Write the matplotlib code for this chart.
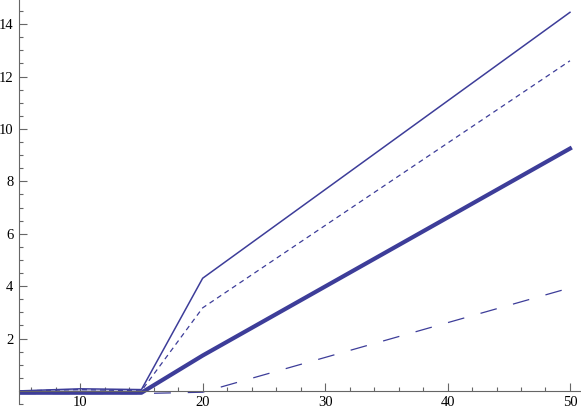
import matplotlib.pyplot as plt
from matplotlib.ticker import MultipleLocator, FixedLocator

# data
x = [5, 10, 15, 20, 50]
thin_solid = [0.0, 0.08, 0.05, 4.3, 14.45]
short_dash = [0.0, 0.05, 0.0, 3.17, 12.6]
thick_solid = [-0.07, -0.07, -0.07, 1.35, 9.25]
long_dash = [-0.1, -0.1, -0.1, -0.05, 3.93]

xticks = [10, 20, 30, 40, 50]
yticks = [2, 4, 6, 8, 10, 12, 14]

col = '#3d3d99'
axcol = '#666666'

fig = plt.figure(figsize=(5.81, 4.15), dpi=100)
ax = fig.add_axes([19/581, 11/415, 562/581, 404/415])

ax.plot(x, thin_solid, color=col, lw=1.1, solid_joinstyle='miter')
ax.plot(x, short_dash, color=col, lw=0.9, dashes=(4, 3.2))
ax.plot(x, thick_solid, color=col, lw=3.0)
ax.plot(x, long_dash, color=col, lw=0.9, dashes=(13.5, 13.5))

ax.set_xlim(5, 50.9)
ax.set_ylim(-0.5, 14.92)

for s in ['top', 'right']:
    ax.spines[s].set_visible(False)
ax.spines['bottom'].set_position(('data', 0))
ax.spines['left'].set_position(('data', 5))
for s in ['bottom', 'left']:
    ax.spines[s].set_color(axcol)
    ax.spines[s].set_linewidth(0.8)

ax.xaxis.set_major_locator(FixedLocator(xticks))
ax.xaxis.set_minor_locator(MultipleLocator(2))
ax.yaxis.set_major_locator(FixedLocator(yticks))
ax.yaxis.set_minor_locator(MultipleLocator(0.5))
ax.tick_params(which='both', direction='in', color=axcol, width=0.8)
ax.tick_params(which='major', length=5.5)
ax.tick_params(which='minor', length=3)
ax.tick_params(axis='x', which='major', pad=4)
ax.tick_params(axis='y', which='major', pad=4)
for lab in ax.get_xticklabels() + ax.get_yticklabels():
    lab.set_fontfamily('Liberation Serif')
    lab.set_fontsize(10.5)

fig.savefig('out.png', dpi=100)
